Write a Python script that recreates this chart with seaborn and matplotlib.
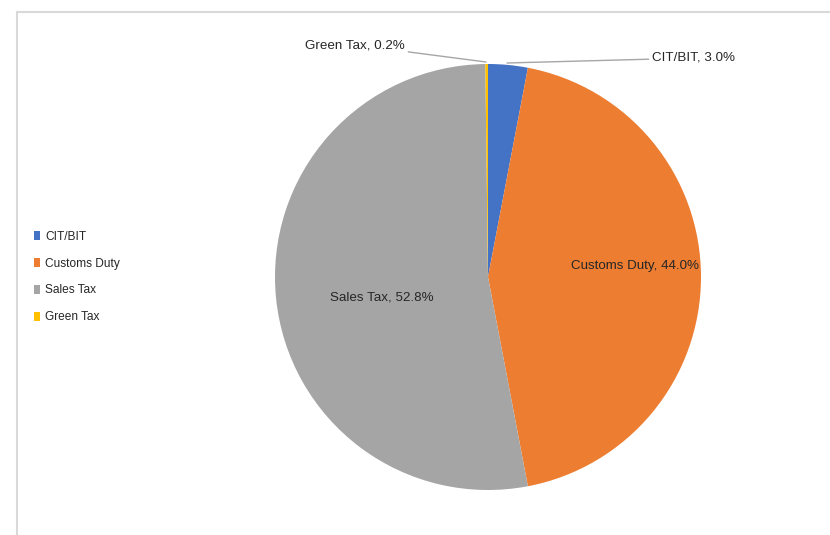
import matplotlib
matplotlib.use("Agg")
import matplotlib.pyplot as plt
from matplotlib.patches import Patch, Rectangle
import seaborn as sns

# Revenue shares by tax type (percent)
categories = ["CIT/BIT", "Customs Duty", "Sales Tax", "Green Tax"]
shares = [3.0, 44.0, 52.8, 0.2]
colors = ["#4472C4", "#ED7D31", "#A5A5A5", "#FFC000"]

sns.set_theme(style="white")
plt.rcParams["font.family"] = ["Liberation Sans", "DejaVu Sans"]
text_color = "#262626"

W, H = 830, 535
fig = plt.figure(figsize=(W / 100, H / 100), dpi=100)
fig.patch.set_facecolor("white")

# Chart-area border (only left and top edges fall inside the canvas)
fig.add_artist(Rectangle((17 / W, -0.1), 1.2, (H - 12) / H + 0.1,
                         transform=fig.transFigure, fill=False,
                         edgecolor="#D9D9D9", linewidth=1.5))

cx, cy, r = 488, 277, 213
ax = fig.add_axes([(cx - r) / W, (H - cy - r) / H, 2 * r / W, 2 * r / H])
wedges, _ = ax.pie(shares, colors=colors, startangle=90, counterclock=False,
                   radius=1.0, wedgeprops=dict(linewidth=0))
ax.set_xlim(-1, 1)
ax.set_ylim(-1, 1)
ax.set_aspect("equal")
ax.axis("off")


def px(x, y):
    """Convert pixel coordinates (origin top-left) to axes data units."""
    return ((x - cx) / r, (cy - y) / r)


fs = 9.6

# In-slice labels
for name, val, (x, y) in [("Customs Duty", shares[1], (635, 266)),
                          ("Sales Tax", shares[2], (382, 297))]:
    ax.text(*px(x, y), f"{name}, {val:.1f}%", ha="center", va="center",
            fontsize=fs, color=text_color)

# Outside labels with leader lines
gx, gy = px(486, 62)
ax.annotate(f"{categories[3]}, {shares[3]:.1f}%", xy=(gx, gy), xytext=px(405, 45),
            ha="right", va="center", fontsize=fs, color=text_color,
            arrowprops=dict(arrowstyle="-", color="#A6A6A6", lw=1.0,
                            shrinkA=0, shrinkB=0), annotation_clip=False)
bx, by = px(507, 63)
ax.annotate(f"{categories[0]}, {shares[0]:.1f}%", xy=(bx, by), xytext=px(652, 58),
            ha="left", va="center", fontsize=fs, color=text_color,
            arrowprops=dict(arrowstyle="-", color="#A6A6A6", lw=1.0,
                            shrinkA=0, shrinkB=0), annotation_clip=False)

# Legend on the left
handles = [Patch(facecolor=c, edgecolor="none") for c in colors]
fig.legend(handles, categories, loc="center left",
           bbox_to_anchor=(23 / W, (H - 277) / H), frameon=False,
           fontsize=8.6, labelcolor=text_color, handlelength=0.5,
           handleheight=0.8, handletextpad=0.45, labelspacing=1.25)

fig.savefig("out.png", dpi=100, facecolor="white")
